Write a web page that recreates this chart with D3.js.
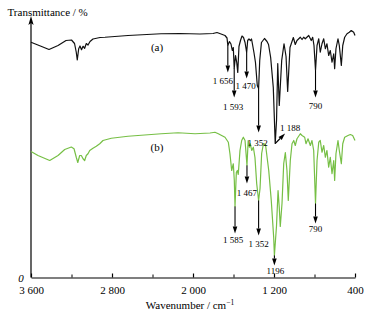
<!DOCTYPE html>
<html><head><meta charset="utf-8">
<script src="https://cdn.jsdelivr.net/npm/d3@7"></script>
<style>html,body{margin:0;padding:0;background:#fff;}svg{display:block;}</style>
</head><body>
<script>
// ---- data ----
const xTickValues = [3600, 2800, 2000, 1200, 400];
const xTickLabels = ["3 600", "2 800", "2 000", "1 200", "400"];
const xMinorTicks = [3200, 2400, 1600, 800];

const wnA = [3600,3501,3422,3333,3254,3200,3170,3153,3143,3129,3116,3101,3086,3070,3054,3037,3017,2988,2918,2869,2642,2316,2128,1931,1802,1763,1723,1684,1664,1656,1640,1625,1612,1602,1593,1580,1568,1558,1546,1531,1516,1501,1486,1470,1460,1447,1432,1422,1412,1398,1383,1365,1352,1341,1324,1294,1269,1254,1233,1207,1188,1175,1163,1148,1124,1101,1081,1065,1042,1009,990,973,940,923,907,891,857,832,818,805,790,775,758,743,726,709,693,677,660,644,627,610,601,588,568,555,535,521,502,479,456,437,413,400];
const tA = [94.1,92.5,91.2,92.8,94.8,95.0,93.6,90.1,87.0,91.5,92.6,91.1,92.5,91.7,93.6,93.0,94.4,95.4,96.0,96.1,96.8,97.5,97.6,97.4,97.6,98.0,97.4,96.8,95.8,92.8,94.4,93.4,90.8,92.0,83.6,88.8,86.0,82.0,92.4,94.8,96.6,96.0,94.0,90.0,94.8,95.4,94.8,95.4,93.2,90.0,86.0,76.8,75.6,86.8,94.0,95.6,94.4,93.2,88.0,76.0,53.6,62.8,85.6,68.8,86.8,93.5,88.4,74.4,92.0,96.0,93.2,94.8,96.1,95.2,96.1,95.5,96.8,94.8,96.1,92.8,82.8,92.8,95.5,90.1,93.5,95.5,91.5,93.5,88.8,90.8,86.1,89.5,83.5,91.5,95.5,92.8,84.8,92.8,96.1,97.5,98.1,98.8,98.1,96.8];

const wnB = [3600,3531,3415,3333,3267,3202,3175,3153,3138,3119,3103,3086,3070,3054,3037,3020,2988,2955,2921,2889,2807,2642,2313,2148,1980,1832,1783,1750,1684,1651,1635,1618,1602,1592,1585,1572,1562,1553,1536,1519,1503,1486,1467,1455,1443,1434,1420,1404,1388,1371,1352,1338,1322,1304,1284,1252,1227,1203,1196,1175,1160,1148,1138,1121,1104,1088,1072,1059,1039,1022,1005,990,973,940,923,897,884,864,841,825,808,790,775,758,743,726,709,693,677,660,644,627,610,601,588,568,555,535,521,502,469,446,423,400];
const tB = [50.4,48.8,46.8,48.8,51.2,52.2,51.5,48.1,46.0,48.8,48.8,47.5,46.8,48.8,49.5,50.8,51.7,52.5,53.5,54.8,55.7,56.5,57.5,57.9,57.5,57.8,58.1,57.5,56.1,54.1,49.5,42.8,45.5,38.8,28.4,42.0,42.8,41.2,50.8,54.8,56.1,54.8,44.8,54.8,52.1,53.5,50.8,52.1,48.0,37.6,30.8,35.6,49.6,53.6,53.2,42.8,30.8,16.0,8.8,20.8,34.8,28.0,20.4,29.6,45.6,50.0,42.8,30.8,46.8,53.5,54.8,52.8,55.5,57.5,56.8,56.1,53.5,55.5,52.8,54.8,50.8,29.6,46.8,54.1,54.8,50.1,52.8,48.1,50.8,44.1,48.1,41.5,46.8,38.8,49.5,54.8,50.8,45.5,53.5,56.1,56.8,57.2,56.8,54.8];

// peak annotations (wavenumber, label, arrow start / end transmittance)
const annAWn = [1656, 1593, 1470, 1352, 1188, 790];
const annAToWn = [1656, 1593, 1470, 1352, 1091, 790];
const annALabel = ["1 656", "1 593", "1 470", "1 352", "1 188", "790"];
const annAFrom = [92.8, 83.6, 90.0, 75.6, 53.6, 82.8];
const annATo = [82.0, 72.0, 79.6, 58.0, 57.6, 72.0];

const annBWn = [1585, 1467, 1352, 1196, 790];
const annBToWn = [1585, 1467, 1352, 1196, 790];
const annBLabel = ["1 585", "1 467", "1 352", "1196", "790"];
const annBFrom = [28.4, 44.8, 30.8, 8.8, 29.6];
const annBTo = [17.6, 37.6, 16.8, 4.8, 21.6];

// ---- layout / style ----
const W = 371, H = 316;
const FONT = "'Liberation Serif','Times New Roman',serif";
const labelOffA = [[-5, 11.5], [-1, 12.5], [-1, 10.5], [-1, 13], [5, -3], [0, 11.5]];
const labelOffB = [[-2, 9.5], [0, 12.5], [0, 11.5], [1, 8.5], [0, 8.5]];

const svg = d3.select("body").append("svg").attr("width", W).attr("height", H)
  .style("font-family", FONT);

const x = d3.scaleLinear().domain([3600, 400]).range([31, 355]);
const y = d3.scaleLinear().domain([0, 100]).range([277.5, 27.5]);

// x axis major
const gx = svg.append("g").attr("transform", `translate(0,${y(0)})`)
  .call(d3.axisBottom(x).tickValues(xTickValues).tickSizeInner(-4).tickSizeOuter(0)
    .tickPadding(9).tickFormat((d, i) => xTickLabels[i]));
gx.selectAll("text").style("font-family", FONT).style("font-size", "11px").attr("fill", "#000");
gx.selectAll("line,path").attr("stroke", "#000").attr("stroke-width", 1.2);
// x axis minor
const gxm = svg.append("g").attr("transform", `translate(0,${y(0)})`)
  .call(d3.axisBottom(x).tickValues(xMinorTicks).tickSizeInner(-3).tickSizeOuter(0).tickFormat(""));
gxm.select(".domain").remove();
gxm.selectAll("line").attr("stroke", "#000").attr("stroke-width", 1);

// y axis line with arrow
svg.append("line").attr("x1", x(3600)).attr("x2", x(3600)).attr("y1", y(0)).attr("y2", 22)
  .attr("stroke", "#000").attr("stroke-width", 1.2);
svg.append("path").attr("d", `M${x(3600)},16 L${x(3600) - 2.6},25 L${x(3600)},23 L${x(3600) + 2.6},25 Z`)
  .attr("fill", "#000");

svg.append("text").attr("x", 7.5).attr("y", 15.5).style("font-size", "11px").text("Transmittance / %");
svg.append("text").attr("x", 21).attr("y", 281.5).attr("text-anchor", "middle")
  .style("font-size", "11px").style("font-style", "italic").text("0");
const xt = svg.append("text").attr("x", 190).attr("y", 309).attr("text-anchor", "middle")
  .style("font-size", "11px").text("Wavenumber / cm");
xt.append("tspan").attr("dy", -4).style("font-size", "7.5px").text("−1");

// spectra
const line = d3.line().x(d => x(d[0])).y(d => y(d[1]));
svg.append("path").datum(d3.zip(wnA, tA)).attr("d", line)
  .attr("fill", "none").attr("stroke", "#111").attr("stroke-width", 1.2).attr("stroke-linejoin", "round");
svg.append("path").datum(d3.zip(wnB, tB)).attr("d", line)
  .attr("fill", "none").attr("stroke", "#76bf45").attr("stroke-width", 1.2).attr("stroke-linejoin", "round");

svg.append("text").attr("x", 157).attr("y", 50.5).attr("text-anchor", "middle").style("font-size", "11px").text("(a)");
svg.append("text").attr("x", 157).attr("y", 150.5).attr("text-anchor", "middle").style("font-size", "11px").text("(b)");

// annotations
function drawAnn(wn, toWn, labels, from, to, offs) {
  wn.forEach((w, i) => {
    const x1 = x(w), y1 = y(from[i]), x2 = x(toWn[i]), y2 = y(to[i]);
    const dx = x2 - x1, dy = y2 - y1, L = Math.hypot(dx, dy);
    const ux = dx / L, uy = dy / L, hl = 7, hw = 2.3;
    const bx = x2 - ux * hl, by = y2 - uy * hl;
    svg.append("line").attr("x1", x1).attr("y1", y1).attr("x2", bx).attr("y2", by)
      .attr("stroke", "#000").attr("stroke-width", 1.1);
    svg.append("path").attr("d",
      `M${x2},${y2} L${bx - uy * hw},${by + ux * hw} L${bx + uy * hw},${by - ux * hw} Z`)
      .attr("fill", "#000");
    svg.append("text").attr("x", x2 + offs[i][0]).attr("y", y2 + offs[i][1])
      .attr("text-anchor", "middle").style("font-size", "9px").text(labels[i]);
  });
}
drawAnn(annAWn, annAToWn, annALabel, annAFrom, annATo, labelOffA);
drawAnn(annBWn, annBToWn, annBLabel, annBFrom, annBTo, labelOffB);
</script>
</body></html>
